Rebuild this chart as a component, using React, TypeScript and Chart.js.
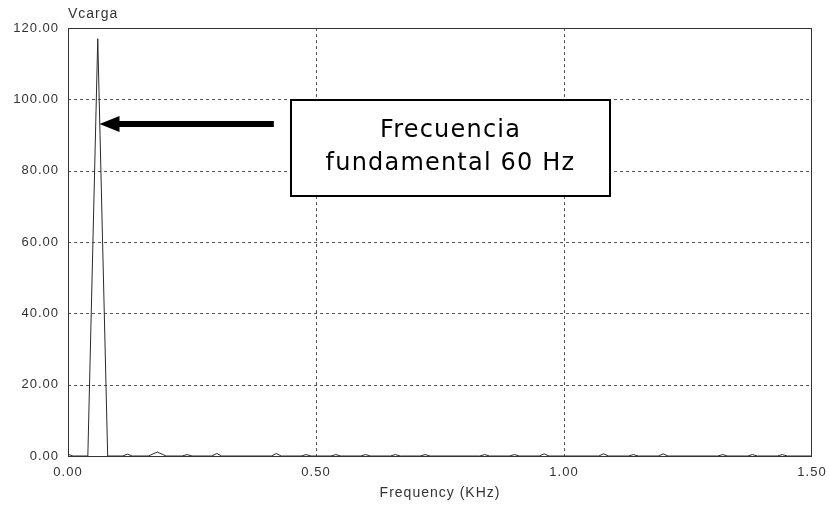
import React, { useEffect, useRef } from "react";
import { Chart, registerables } from "chart.js";

Chart.register(...registerables);

// Spectrum points: frequency (kHz) and amplitude (V)
const freqKHz = [
  0.0, 0.01,
  0.04, 0.06, 0.08,
  0.11, 0.12, 0.13,
  0.162, 0.18, 0.198,
  0.23, 0.24, 0.25,
  0.29, 0.3, 0.31,
  0.41, 0.42, 0.43,
  0.47, 0.48, 0.49,
  0.53, 0.54, 0.55,
  0.59, 0.6, 0.61,
  0.65, 0.66, 0.67,
  0.71, 0.72, 0.73,
  0.83, 0.84, 0.85,
  0.89, 0.9, 0.91,
  0.95, 0.96, 0.97,
  1.07, 1.08, 1.09,
  1.13, 1.14, 1.15,
  1.19, 1.2, 1.21,
  1.31, 1.32, 1.33,
  1.37, 1.38, 1.39,
  1.43, 1.44, 1.45,
  1.5,
];
const vcarga = [
  0.5, 0,
  0, 117, 0,
  0, 0.5, 0,
  0, 1.1, 0,
  0, 0.4, 0,
  0, 0.7, 0,
  0, 0.7, 0,
  0, 0.4, 0,
  0, 0.4, 0,
  0, 0.4, 0,
  0, 0.4, 0,
  0, 0.4, 0,
  0, 0.4, 0,
  0, 0.4, 0,
  0, 0.6, 0,
  0, 0.6, 0,
  0, 0.4, 0,
  0, 0.6, 0,
  0, 0.4, 0,
  0, 0.4, 0,
  0, 0.4, 0,
  0,
];

const yTitle = "Vcarga";
const xTitle = "Frequency (KHz)";
const annotationLines = ["Frecuencia", "fundamental 60 Hz"];
// annotation anchored in data coordinates
const boxX = [0.4496, 1.093];
const boxY = [99.8, 72.9];
const arrowTail = { x: 0.415, y: 93.1 };
const arrowTip = { x: 0.0635, y: 93.1 };

const X_MIN = 0, X_MAX = 1.5, X_STEP = 0.5;
const Y_MIN = 0, Y_MAX = 120, Y_STEP = 20;

const TICK_FONT = 'Arial, "Liberation Sans", sans-serif';

const overlayPlugin = {
  id: "overlay",
  beforeLayout(chart: any) {
    chart.ctx.letterSpacing = "1px";
  },
  beforeDraw(chart: any) {
    const ctx = chart.ctx;
    ctx.letterSpacing = "1px";
    ctx.save();
    ctx.fillStyle = "#ffffff";
    ctx.fillRect(0, 0, chart.width, chart.height);
    ctx.restore();
  },
  beforeDatasetsDraw(chart: any) {
    const ctx = chart.ctx;
    const { left, right, top, bottom } = chart.chartArea;
    const xs = chart.scales.x;
    const ys = chart.scales.y;
    ctx.save();
    ctx.strokeStyle = "#555";
    ctx.lineWidth = 1;
    ctx.setLineDash([3, 3]);
    ys.ticks.forEach((t: any) => {
      if (t.value <= Y_MIN || t.value >= Y_MAX) return;
      const y = Math.round(ys.getPixelForValue(t.value)) + 0.5;
      ctx.beginPath();
      ctx.moveTo(left, y);
      ctx.lineTo(right, y);
      ctx.stroke();
    });
    xs.ticks.forEach((t: any) => {
      if (t.value <= X_MIN || t.value >= X_MAX) return;
      const x = Math.round(xs.getPixelForValue(t.value)) + 0.5;
      ctx.beginPath();
      ctx.moveTo(x, top);
      ctx.lineTo(x, bottom);
      ctx.stroke();
    });
    ctx.restore();
  },
  afterDatasetsDraw(chart: any) {
    const ctx = chart.ctx;
    const { left, right, top, bottom } = chart.chartArea;
    const xs = chart.scales.x;
    const ys = chart.scales.y;
    ctx.save();
    // frame
    ctx.setLineDash([]);
    ctx.strokeStyle = "#333";
    ctx.lineWidth = 1;
    ctx.strokeRect(left + 0.5, top + 0.5, right - left - 1, bottom - top);

    // titles
    ctx.letterSpacing = "1px";
    ctx.fillStyle = "#333";
    ctx.font = `14px ${TICK_FONT}`;
    ctx.textBaseline = "middle";
    ctx.textAlign = "left";
    ctx.fillText(yTitle, left, top - 14);
    ctx.textAlign = "center";
    ctx.fillText(xTitle, (left + right) / 2, bottom + 37);

    // annotation box
    const bx1 = Math.round(xs.getPixelForValue(boxX[0]));
    const bx2 = Math.round(xs.getPixelForValue(boxX[1]));
    const by1 = Math.round(ys.getPixelForValue(boxY[0]));
    const by2 = Math.round(ys.getPixelForValue(boxY[1]));
    ctx.fillStyle = "#ffffff";
    ctx.fillRect(bx1, by1, bx2 - bx1, by2 - by1);
    ctx.strokeStyle = "#000";
    ctx.lineWidth = 2;
    ctx.strokeRect(bx1, by1, bx2 - bx1, by2 - by1);
    ctx.fillStyle = "#000";
    ctx.font = '24px "DejaVu Sans", Verdana, sans-serif';
    ctx.letterSpacing = "1.2px";
    ctx.textAlign = "center";
    ctx.textBaseline = "alphabetic";
    const cx = (bx1 + bx2) / 2;
    const cy = (by1 + by2) / 2;
    ctx.fillText(annotationLines[0], cx, cy - 11.5);
    ctx.fillText(annotationLines[1], cx, cy + 21.5);

    // arrow
    const tx = xs.getPixelForValue(arrowTail.x);
    const ty = ys.getPixelForValue(arrowTail.y);
    const hx = xs.getPixelForValue(arrowTip.x);
    const hy = ys.getPixelForValue(arrowTip.y);
    const headLen = 20;
    const headHalf = 8;
    ctx.strokeStyle = "#000";
    ctx.lineWidth = 6;
    ctx.lineCap = "butt";
    ctx.beginPath();
    ctx.moveTo(tx, ty);
    ctx.lineTo(hx + headLen - 2, hy);
    ctx.stroke();
    ctx.beginPath();
    ctx.moveTo(hx, hy);
    ctx.lineTo(hx + headLen, hy - headHalf);
    ctx.lineTo(hx + headLen, hy + headHalf);
    ctx.closePath();
    ctx.fill();
    ctx.restore();
  },
};

export default function App() {
  const canvasRef = useRef<HTMLCanvasElement | null>(null);

  useEffect(() => {
    if (!canvasRef.current) return;
    const points = freqKHz.map((f, i) => ({ x: f, y: vcarga[i] }));
    const chart = new Chart(canvasRef.current, {
      type: "line",
      data: {
        datasets: [
          {
            label: yTitle,
            data: points,
            borderColor: "#2a2a2a",
            borderWidth: 1,
            pointRadius: 0,
            tension: 0,
            fill: false,
          },
        ],
      },
      options: {
        animation: false,
        responsive: true,
        maintainAspectRatio: false,
        devicePixelRatio: 1,
        layout: { padding: { top: 28, right: 17, left: 0, bottom: 0 } },
        plugins: {
          legend: { display: false },
          tooltip: { enabled: false },
          title: { display: false },
        },
        scales: {
          x: {
            type: "linear",
            min: X_MIN,
            max: X_MAX,
            grid: { display: false, drawTicks: false },
            border: { display: false },
            ticks: {
              stepSize: X_STEP,
              padding: 9,
              maxRotation: 0,
              autoSkip: false,
              color: "#333",
              font: { family: TICK_FONT, size: 13 },
              callback: (v: any) => Number(v).toFixed(2),
            },
            afterFit: (scale: any) => {
              scale.height = 52;
              scale.paddingLeft = 0;
              scale.paddingRight = 0;
            },
          },
          y: {
            type: "linear",
            min: Y_MIN,
            max: Y_MAX,
            grid: { display: false, drawTicks: false },
            border: { display: false },
            ticks: {
              stepSize: Y_STEP,
              padding: 9,
              color: "#333",
              font: { family: TICK_FONT, size: 13 },
              callback: (v: any) => Number(v).toFixed(2),
            },
            afterFit: (scale: any) => {
              scale.width = 68;
              scale.paddingTop = 0;
              scale.paddingBottom = 0;
            },
          },
        },
      },
      plugins: [overlayPlugin],
    });
    return () => chart.destroy();
  }, []);

  return (
    <div
      style={{
        position: "absolute",
        left: 0,
        top: 0,
        width: 829,
        height: 508,
        background: "#fff",
      }}
    >
      <canvas ref={canvasRef} />
    </div>
  );
}
